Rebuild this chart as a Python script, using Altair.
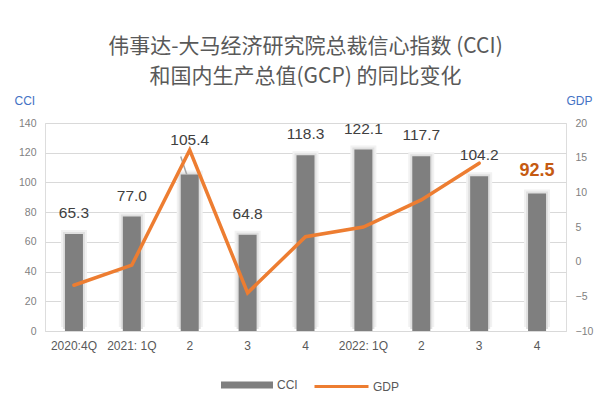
import altair as alt
import pandas as pd

# ---- data ----
tick_labels = ["2020:4Q", "2021: 1Q", "2", "3", "4", "2022: 1Q", "2", "3", "4"]
cci = [65.3, 77.0, 105.4, 64.8, 118.3, 122.1, 117.7, 104.2, 92.5]
gdp = [-3.4, -0.5, 16.1, -4.5, 3.6, 5.0, 8.9, 14.2, None]

df = pd.DataFrame({
    "idx": list(range(len(tick_labels))),
    "CCI": cci,
    "GDP": gdp,
    "label": [f"{v:.1f}" for v in cci],
})

label_expr = "[" + ",".join("'" + t + "'" for t in tick_labels) + "][datum.value]"

FONT = "Liberation Sans"
GRAY_BAR = "#7F7F7F"
ORANGE = "#ED7D31"

x_enc = alt.X(
    "idx:O",
    scale=alt.Scale(paddingInner=0.68, paddingOuter=0.34),
    axis=alt.Axis(
        title=None, labelExpr=label_expr, labelAngle=0, ticks=False,
        domain=True, domainColor="#D9D9D9", labelColor="#595959",
        labelFontSize=12, labelFont=FONT, labelPadding=9, grid=False,
    ),
)

y_cci_scale = alt.Scale(domain=[0, 140], nice=False)
y_cci = alt.Y(
    "CCI:Q",
    scale=y_cci_scale,
    axis=alt.Axis(
        values=[0, 20, 40, 60, 80, 100, 120, 140], grid=True, gridColor="#D9D9D9",
        ticks=False, domain=False, labelColor="#7F7F7F", labelFontSize=10.5,
        labelFont=FONT, labelPadding=9,
        title="CCI", titleAngle=0, titleAlign="left", titleBaseline="middle",
        titleX=-31, titleY=-23, titleColor="#4472C4", titleFontSize=12,
        titleFontWeight="normal", titleFont=FONT,
    ),
)

base = alt.Chart(df)

shadow1 = base.mark_bar(size=26, color="#F2F2F2", yOffset=-4).encode(x=x_enc, y=y_cci)
shadow2 = base.mark_bar(size=22, color="#E0E0E0", yOffset=-2).encode(x=x_enc, y=y_cci)

bars = base.transform_calculate(s='"CCI"').mark_bar(size=18).encode(
    x=x_enc,
    y=y_cci,
    fill=alt.Fill(
        "s:N",
        scale=alt.Scale(domain=["CCI"], range=[GRAY_BAR]),
        legend=alt.Legend(
            title=None, orient="none", legendX=176, legendY=236,
            symbolType="M-1,-0.135H1V0.135H-1Z", symbolSize=2704,
            symbolStrokeWidth=0, labelFontSize=12, labelColor="#595959",
            labelFont=FONT, padding=0, labelOffset=4,
        ),
    ),
)

txt_common = dict(font=FONT, fontSize=15.5, color="#404040", baseline="alphabetic")

labels_normal = base.transform_filter("datum.idx != 2 && datum.idx != 8").mark_text(
    dy=-16, **txt_common
).encode(x=x_enc, y=y_cci, text="label:N")

label_peak = base.transform_filter("datum.idx == 2").mark_text(
    dy=-29, **txt_common
).encode(x=x_enc, y=y_cci, text="label:N")

leader = base.transform_filter("datum.idx == 2").mark_rule(
    color="#A6A6A6", strokeWidth=1.5, xOffset=-3, x2Offset=-9, y2Offset=-18
).encode(x=x_enc, x2=alt.X2("idx:O"), y=y_cci, y2=alt.Y2("CCI:Q"))

label_last = base.transform_filter("datum.idx == 8").mark_text(
    dy=-18, font=FONT, fontSize=18, fontWeight="bold", color="#C55A11",
    baseline="alphabetic",
).encode(x=x_enc, y=y_cci, text="label:N")

cci_layer = alt.layer(shadow1, shadow2, bars, leader, labels_normal, label_peak, label_last)

line = base.transform_calculate(s2='"GDP"').mark_line(
    strokeWidth=3.5, strokeCap="round", strokeJoin="miter"
).encode(
    x=x_enc,
    y=alt.Y(
        "GDP:Q",
        scale=alt.Scale(domain=[-10, 20], nice=False),
        axis=alt.Axis(
            orient="right", values=[-10, -5, 0, 5, 10, 15, 20], grid=False,
            ticks=False, domain=False, labelColor="#7F7F7F", labelFontSize=10.5,
            labelFont=FONT, labelPadding=9,
            title="GDP", titleAngle=0, titleAlign="left", titleBaseline="middle",
            titleX=0, titleY=-23, titleColor="#4472C4", titleFontSize=12,
            titleFontWeight="normal", titleFont=FONT,
        ),
    ),
    stroke=alt.Stroke(
        "s2:N",
        scale=alt.Scale(domain=["GDP"], range=[ORANGE]),
        legend=alt.Legend(
            title=None, orient="none", legendX=268, legendY=235,
            symbolType="stroke", symbolSize=2916, symbolStrokeWidth=3,
            labelFontSize=12, labelColor="#595959", labelFont=FONT,
            padding=0, labelOffset=3,
        ),
    ),
)

chart = alt.layer(cci_layer, line).resolve_scale(y="independent").properties(
    width=521,
    height=208,
    padding={"left": 37, "top": 115, "right": 30, "bottom": 72},
    autosize=alt.AutoSizeParams(type="none"),
    title=alt.TitleParams(
        text=["伟事达-大马经济研究院总裁信心指数 (CCI)", "和国内生产总值(GCP) 的同比变化"],
        font="Noto Sans CJK SC", fontSize=21, fontWeight="normal",
        color="#595959", anchor="middle", frame="group", lineHeight=30,
        offset=7,
    ),
).configure_view(stroke=None).configure(background="white")

chart.save("out.html", embed_options={"renderer": "svg", "actions": False})
